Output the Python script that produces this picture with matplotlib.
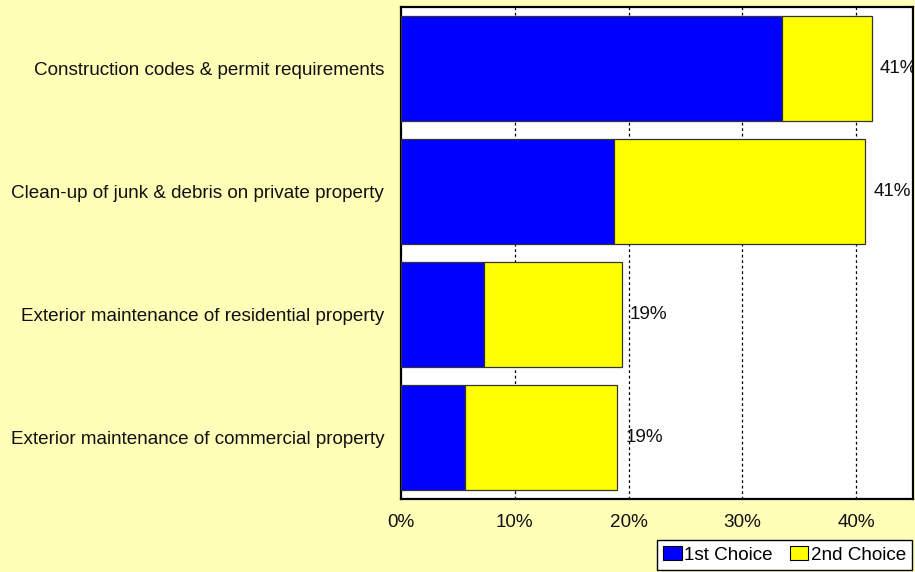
import matplotlib
matplotlib.use("Agg")
import matplotlib.pyplot as plt
from matplotlib.patches import Patch

plt.rcParams['font.family'] = ['Liberation Sans', 'DejaVu Sans']

categories = [
    "Construction codes & permit requirements",
    "Clean-up of junk & debris on private property",
    "Exterior maintenance of residential property",
    "Exterior maintenance of commercial property",
]
first_choice = [33.5, 18.7, 7.3, 5.6]
second_choice = [7.9, 22.1, 12.1, 13.4]
total_labels = ["41%", "41%", "19%", "19%"]
series_names = ["1st Choice", "2nd Choice"]
x_ticks = [0, 10, 20, 30, 40]
x_tick_labels = ["0%", "10%", "20%", "30%", "40%"]

BG = "#FFFFB8"
BLUE = "#0000FF"
YELLOW = "#FFFF00"
FS = 13.6

W, H = 915, 572
fig = plt.figure(figsize=(W / 100, H / 100), dpi=100, facecolor=BG)
left, right, top, bottom = 401, 913, 7, 498.5
ax = fig.add_axes([left / W, 1 - bottom / H, (right - left) / W, (bottom - top) / H])
ax.set_facecolor("white")

ypos = list(range(len(categories)))
bar_h = 0.855
ax.barh(ypos, first_choice, height=bar_h, color=BLUE, edgecolor="#333333", linewidth=0.9, zorder=3)
ax.barh(ypos, second_choice, left=first_choice, height=bar_h, color=YELLOW,
        edgecolor="#333333", linewidth=0.9, zorder=3)

# total value at the end of each bar, clipped by the plot frame
for y, a, b, lab in zip(ypos, first_choice, second_choice, total_labels):
    ax.text(a + b + 0.7, y, lab, va="center", ha="left", fontsize=FS,
            color="#111111", clip_on=True, zorder=4)

ax.set_xlim(0, 45)
ax.set_ylim(len(categories) - 0.5, -0.5)
ax.set_xticks(x_ticks)
ax.set_xticklabels(x_tick_labels, fontsize=FS)
ax.set_yticks(ypos)
ax.set_yticklabels(categories, fontsize=FS)
ax.tick_params(axis="both", length=0, colors="#111111")
ax.tick_params(axis="x", pad=11.5)
ax.tick_params(axis="y", pad=12)

for gx in x_ticks[1:]:
    ax.axvline(gx, color="black", linewidth=0.9, linestyle=(0, (2.2, 2.2)), zorder=1)

for sp in ax.spines.values():
    sp.set_linewidth(1.6)
    sp.set_color("black")

handles = [Patch(facecolor=BLUE, edgecolor="black", linewidth=0.8),
           Patch(facecolor=YELLOW, edgecolor="black", linewidth=0.8)]
leg = fig.legend(handles, series_names, loc="lower right",
                 bbox_to_anchor=(912 / W, 1 - 570 / H), ncol=2, fontsize=FS,
                 frameon=True, fancybox=False, framealpha=1, edgecolor="black",
                 handlelength=1.0, handleheight=0.75, handletextpad=0.12,
                 columnspacing=0.9, borderpad=0.32, borderaxespad=0)
leg.get_frame().set_linewidth(1.0)

fig.savefig("out.png", dpi=100, facecolor=BG)
